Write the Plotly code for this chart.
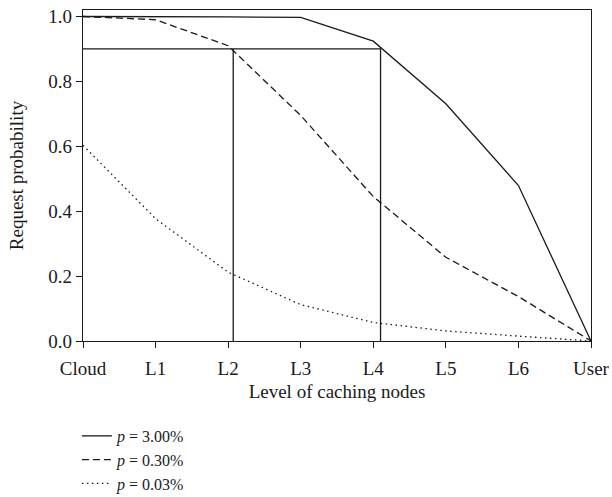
import plotly.graph_objects as go

categories = ["Cloud", "L1", "L2", "L3", "L4", "L5", "L6", "User"]
p_300 = [1.0, 1.0, 0.999, 0.997, 0.924, 0.731, 0.479, 0.0]
p_030 = [1.0, 0.99, 0.91, 0.695, 0.445, 0.258, 0.137, 0.0]
p_003 = [0.603, 0.377, 0.212, 0.112, 0.057, 0.031, 0.015, 0.0]
series_names = ["<i>p</i> = 3.00%", "<i>p</i> = 0.30%", "<i>p</i> = 0.03%"]

# guide lines at 90% probability
guide_y = 0.9
guide_x_a = 2.07
guide_x_b = 4.1

xs = list(range(len(categories)))
FONT = "Liberation Serif"
FS = 19
INK = "#1a1a1a"

fig = go.Figure()
fig.add_trace(go.Scatter(x=[0, guide_x_b, guide_x_b], y=[guide_y, guide_y, 0],
                         mode="lines", line=dict(color=INK, width=1.3),
                         showlegend=False, hoverinfo="skip"))
fig.add_trace(go.Scatter(x=[guide_x_a, guide_x_a], y=[guide_y, 0],
                         mode="lines", line=dict(color=INK, width=1.3),
                         showlegend=False, hoverinfo="skip"))

styles = ["solid", "7px,4px", "1.5px,3.5px"]
for vals, name, dash in zip([p_300, p_030, p_003], series_names, styles):
    fig.add_trace(go.Scatter(x=xs, y=vals, mode="lines", name=name,
                             line=dict(color=INK, width=1.3, dash=dash)))

fig.update_layout(
    width=612, height=497,
    margin=dict(l=82.5, r=21, t=10, b=156, autoexpand=False),
    paper_bgcolor="white", plot_bgcolor="white",
    font=dict(family=FONT, size=FS, color=INK),
    showlegend=True,
    legend=dict(x=-0.012, y=0.157, xanchor="left", yanchor="top",
                yref="container",
                bgcolor="rgba(0,0,0,0)", font=dict(size=16, family=FONT),
                tracegroupgap=0, itemwidth=30),
)
fig.update_xaxes(
    range=[0, 7], tickvals=xs, ticktext=categories,
    showline=True, linecolor=INK, linewidth=1.3, mirror=True,
    ticks="outside", ticklen=6, tickcolor=INK, tickwidth=1.3,
    ticklabelstandoff=4, automargin=False,
    showgrid=False, zeroline=False,
    title=dict(text="Level of caching nodes", font=dict(size=FS, family=FONT), standoff=6),
    tickfont=dict(size=FS, family=FONT),
)
fig.update_yaxes(
    range=[0, 1.02], tickvals=[0, 0.2, 0.4, 0.6, 0.8, 1.0],
    ticktext=["0.0", "0.2", "0.4", "0.6", "0.8", "1.0"],
    showline=True, linecolor=INK, linewidth=1.3, mirror=True,
    ticks="outside", ticklen=6, tickcolor=INK, tickwidth=1.3,
    automargin=False,
    showgrid=False, zeroline=False,
    title=dict(text="Request probability", font=dict(size=FS, family=FONT), standoff=19),
    tickfont=dict(size=FS, family=FONT),
)

fig.write_html("out.html")
